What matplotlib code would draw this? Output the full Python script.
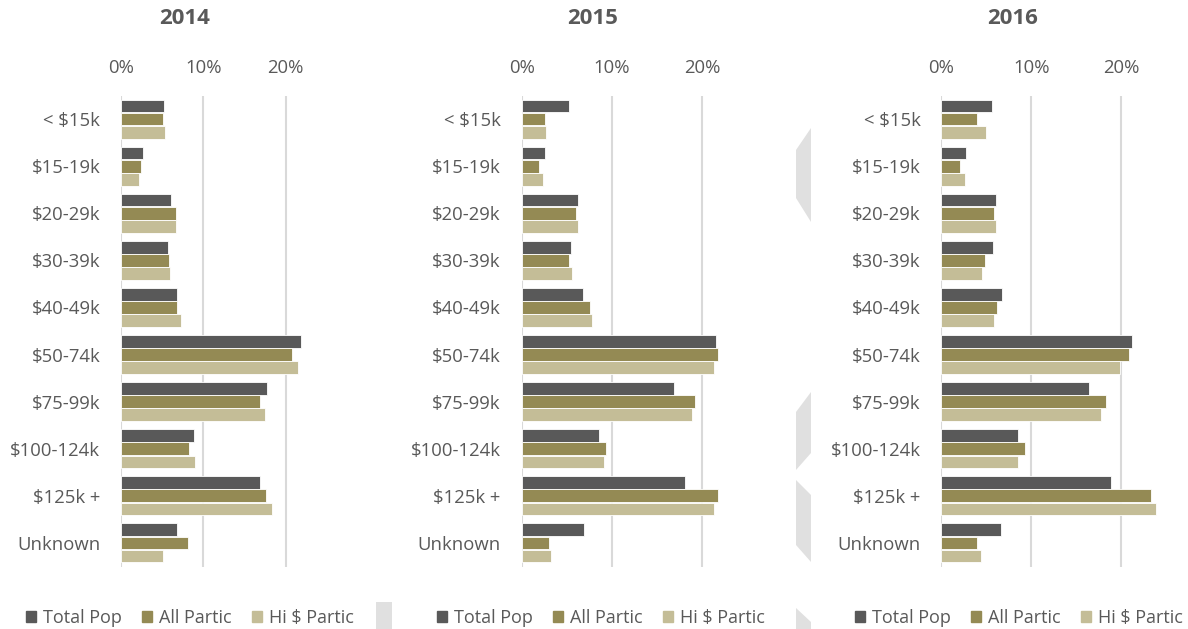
import matplotlib
matplotlib.use("Agg")
import matplotlib.pyplot as plt
from matplotlib.patches import Polygon, Patch
import numpy as np

# Datos
categorias = ["< $15k", "$15-19k", "$20-29k", "$30-39k", "$40-49k",
              "$50-74k", "$75-99k", "$100-124k", "$125k +", "Unknown"]
series = ["Total Pop", "All Partic", "Hi $ Partic"]
anios = ["2014", "2015", "2016"]

total_2014 = [5.25, 2.7, 6.1, 5.65, 6.85, 21.9, 17.7, 8.9, 16.85, 6.85]
all_2014 = [5.1, 2.45, 6.7, 5.8, 6.85, 20.8, 16.9, 8.3, 17.65, 8.1]
hi_2014 = [5.4, 2.2, 6.65, 5.95, 7.3, 21.45, 17.5, 9.0, 18.35, 5.1]

total_2015 = [5.2, 2.6, 6.2, 5.5, 6.85, 21.5, 16.9, 8.6, 18.15, 6.95]
all_2015 = [2.6, 1.95, 6.05, 5.2, 7.6, 21.8, 19.2, 9.3, 21.8, 3.05]
hi_2015 = [2.7, 2.35, 6.25, 5.6, 7.75, 21.3, 18.9, 9.15, 21.3, 3.3]

total_2016 = [5.6, 2.7, 6.1, 5.7, 6.7, 21.2, 16.4, 8.55, 18.9, 6.65]
all_2016 = [3.95, 2.1, 5.8, 4.8, 6.15, 20.8, 18.35, 9.25, 23.25, 3.95]
hi_2016 = [5.0, 2.6, 6.05, 4.5, 5.9, 19.8, 17.7, 8.55, 23.9, 4.4]

datos = {
    "2014": [total_2014, all_2014, hi_2014],
    "2015": [total_2015, all_2015, hi_2015],
    "2016": [total_2016, all_2016, hi_2016],
}

colores = ["#595959", "#948A54", "#C4BD97"]
gris_texto = "#595959"

plt.rcParams['font.family'] = ['Open Sans', 'DejaVu Sans']

W, H = 1188, 629
fig = plt.figure(figsize=(W / 100, H / 100), dpi=100)

# Posiciones en pixeles: (x de 0%, ancho de 0-25%, centro del titulo, centro de la leyenda)
paneles = [(121, 206, 185, 190), (521.7, 225.5, 593, 601), (941.3, 225, 1013, 1019)]
y_top, y_bot = 95.5, 566.5

y = np.arange(len(categorias))
alto = 0.27
desp = [-0.28, 0, 0.28]

for anio, (x0, ancho, tx, lx) in zip(anios, paneles):
    ax = fig.add_axes([x0 / W, 1 - y_bot / H, ancho / W, (y_bot - y_top) / H])
    for i, valores in enumerate(datos[anio]):
        ax.barh(y + desp[i], np.array(valores) / 100, height=alto,
                color=colores[i], edgecolor="white", linewidth=0.6, zorder=3)
    ax.set_xlim(0, 0.25)
    ax.set_ylim(len(categorias) - 0.5, -0.5)
    ax.set_xticks([0, 0.1, 0.2])
    ax.set_xticklabels(["0%", "10%", "20%"])
    ax.xaxis.tick_top()
    ax.set_yticks(y)
    ax.set_yticklabels(categorias)
    ax.tick_params(axis="both", length=0, labelsize=13.3, colors=gris_texto)
    ax.tick_params(axis="y", pad=15)
    ax.tick_params(axis="x", pad=13)
    ax.grid(axis="x", color="#D9D9D9", linewidth=1.5, zorder=0)
    for s in ax.spines.values():
        s.set_visible(False)

    fig.text(tx / W, 1 - 19 / H, anio, ha="center", va="center",
             fontsize=16, fontweight="bold", color=gris_texto)

    handles = [Patch(color=c) for c in colores]
    fig.legend(handles, series, loc="center", bbox_to_anchor=(lx / W, 1 - 618 / H),
               ncol=3, frameon=False, fontsize=13, labelcolor=gris_texto,
               handlelength=0.55, handleheight=0.55, handletextpad=0.4, columnspacing=1.1)

# Formas grises de fondo (recortes de la imagen original)
formas = [
    [(376, 602), (392, 602), (392, 629), (376, 629)],
    [(796, 150), (811, 128), (811, 222), (796, 198)],
    [(796, 412), (811, 392), (811, 453), (796, 470)],
    [(796, 480), (811, 495), (811, 562), (796, 545)],
    [(796, 608), (811, 622), (811, 629), (796, 629)],
]
for f in formas:
    fig.patches.append(Polygon([(px / W, 1 - py / H) for px, py in f],
                               closed=True, transform=fig.transFigure,
                               facecolor="#E0E0E0", edgecolor="none", zorder=0))

fig.savefig("out.png", dpi=100)
